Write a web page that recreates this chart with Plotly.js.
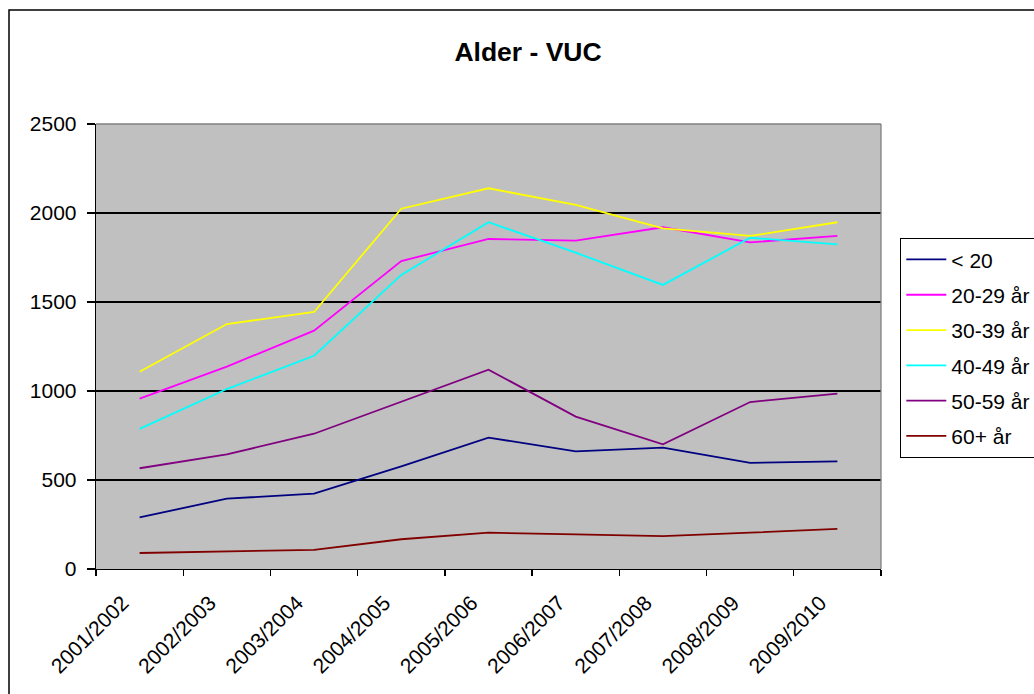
<!DOCTYPE html>
<html>
<head>
<meta charset="utf-8">
<script src="https://cdn.plot.ly/plotly-3.0.1.min.js"></script>
<style>html,body{margin:0;padding:0;background:#fff;}#chart{width:1034px;height:694px;}</style>
</head>
<body>
<div id="chart"></div>
<script>
const categories = ["2001/2002","2002/2003","2003/2004","2004/2005","2005/2006","2006/2007","2007/2008","2008/2009","2009/2010"];
const seriesNames = ["< 20","20-29 år","30-39 år","40-49 år","50-59 år","60+ år"];
const under20 = [290, 395, 423, 577, 738, 661, 682, 596, 605];
const age20to29 = [957, 1137, 1339, 1730, 1854, 1845, 1920, 1835, 1871];
const age30to39 = [1108, 1376, 1444, 2024, 2139, 2045, 1914, 1871, 1948];
const age40to49 = [787, 1011, 1198, 1652, 1948, 1777, 1596, 1861, 1824];
const age50to59 = [566, 644, 760, 942, 1120, 856, 700, 938, 985];
const age60plus = [90, 99, 108, 167, 204, 195, 185, 204, 225];
const yTicks = [0, 500, 1000, 1500, 2000, 2500];

const seriesValues = [under20, age20to29, age30to39, age40to49, age50to59, age60plus];
const colors = ["#000080","#FF00FF","#FFFF00","#00FFFF","#800080","#800000"];

const traces = seriesValues.map((vals, i) => ({
  type: "scatter",
  mode: "lines",
  x: categories,
  y: vals,
  name: seriesNames[i],
  line: {color: colors[i], width: 1.8},
  legendgroup: "g" + i
}));

const font = "Liberation Sans, Arial, sans-serif";

const layout = {
  width: 1034,
  height: 694,
  margin: {l: 96, r: 153, t: 124, b: 125, autoexpand: false},
  paper_bgcolor: "#ffffff",
  plot_bgcolor: "#c0c0c0",
  showlegend: true,
  font: {family: font, size: 21, color: "#000"},
  title: {
    text: "<b>Alder - VUC</b>",
    font: {family: font, size: 26.5, color: "#000"},
    x: 528/1034, xref: "container", xanchor: "center",
    y: 1 - 52/694, yref: "container", yanchor: "middle"
  },
  xaxis: {
    type: "category",
    range: [-0.5, 8.5],
    tickson: "boundaries",
    ticks: "outside",
    ticklen: 6,
    tickwidth: 1.3,
    tickcolor: "#000",
    tickangle: -45,
    ticklabelshift: -17,
    ticklabelstandoff: 12,
    showline: true,
    linecolor: "#000",
    linewidth: 1.3,
    showgrid: false,
    zeroline: false,
    tickfont: {family: font, size: 21, color: "#000"}
  },
  yaxis: {
    range: [0, 2500],
    tickvals: yTicks,
    ticktext: yTicks.map(String),
    ticks: "outside",
    ticklen: 8,
    tickwidth: 1.3,
    tickcolor: "#000",
    ticklabelstandoff: 6,
    showline: true,
    linecolor: "#000",
    linewidth: 1.3,
    showgrid: true,
    gridcolor: "#000",
    gridwidth: 1.3,
    zeroline: false,
    tickfont: {family: font, size: 21, color: "#000"}
  },
  legend: {
    x: (900-96)/785, xref: "paper", xanchor: "left",
    y: (569-238)/445, yref: "paper", yanchor: "top",
    bgcolor: "#ffffff",
    bordercolor: "#000",
    borderwidth: 1.3,
    font: {family: font, size: 21, color: "#000"},
    traceorder: "grouped",
    tracegroupgap: 5,
    itemwidth: 40
  },
  shapes: [
    {type: "line", xref: "paper", yref: "paper", x0: 0, x1: 1, y0: 1, y1: 1, line: {color: "#808080", width: 1.3}},
    {type: "line", xref: "paper", yref: "paper", x0: 1, x1: 1, y0: 0, y1: 1, line: {color: "#808080", width: 1.3}},
    {type: "rect", xref: "paper", yref: "paper", x0: (9-96)/785, x1: 1.4, y0: -0.4, y1: (569-10)/445, line: {color: "#000", width: 1.5}, fillcolor: "rgba(0,0,0,0)"}
  ]
};

Plotly.newPlot("chart", traces, layout, {displayModeBar: false, staticPlot: true});
</script>
</body>
</html>
